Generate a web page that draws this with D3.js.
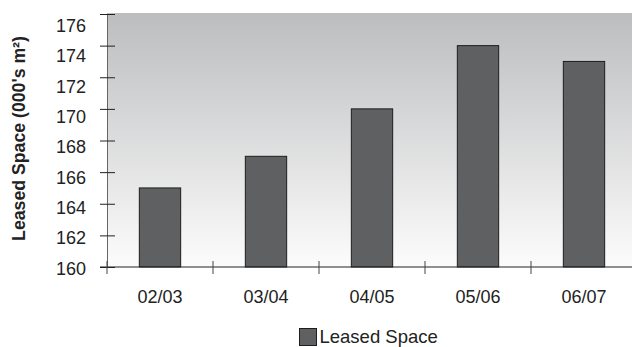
<!DOCTYPE html>
<html>
<head>
<meta charset="utf-8">
<script src="https://cdn.jsdelivr.net/npm/d3@7"></script>
<style>
  html, body { margin: 0; padding: 0; background: #fff; }
  svg { display: block; font-family: "Liberation Sans", Arial, sans-serif; }
</style>
</head>
<body>
<svg id="chart" width="632" height="347"></svg>
<script>
// Leased space per financial year (thousands of m²)
const years = ["02/03", "03/04", "04/05", "05/06", "06/07"];
const leasedSpace = [165, 167, 170, 174, 173];
const yTicks = [160, 162, 164, 166, 168, 170, 172, 174, 176];
const seriesName = "Leased Space";

const svg = d3.select("#chart");
const plotLeft = 107, plotRight = 637, plotTop = 14, plotBottom = 267;

const x = d3.scaleBand().domain(years).range([plotLeft, plotRight]).paddingInner(0.61).paddingOuter(0.305);
const y = d3.scaleLinear().domain([160, 176]).range([plotBottom, plotTop]);
// tick labels sit on a slightly tighter ladder than the tick marks
const yLabel = d3.scaleLinear().domain([160, 176]).range([268, 25.5]);

// plot background gradient
const defs = svg.append("defs");
const grad = defs.append("linearGradient").attr("id", "bg").attr("x1", 0).attr("y1", 0).attr("x2", 0).attr("y2", 1);
grad.append("stop").attr("offset", "0%").attr("stop-color", "#bcbdbf");
grad.append("stop").attr("offset", "100%").attr("stop-color", "#fcfcfc");
svg.append("rect").attr("x", plotLeft).attr("y", plotTop - 1).attr("width", plotRight - plotLeft).attr("height", plotBottom - plotTop + 1).attr("fill", "url(#bg)");

// bars
svg.append("g").selectAll("rect").data(leasedSpace).join("rect")
  .attr("x", (d, i) => x(years[i]))
  .attr("y", d => y(d))
  .attr("width", x.bandwidth())
  .attr("height", d => y(160) - y(d))
  .attr("fill", "#5f6062")
  .attr("stroke", "#1e1e1e")
  .attr("stroke-width", 1);

// y axis: ticks and domain from the axis generator, labels placed separately
const yAxis = d3.axisLeft(y).tickValues(yTicks).tickSizeInner(7).tickSizeOuter(0).tickFormat("");
const gy = svg.append("g").attr("transform", `translate(${plotLeft},0)`).call(yAxis);
gy.select(".domain").attr("stroke", "#666");
gy.selectAll(".tick line").attr("stroke", "#222").attr("x2", 8).attr("x1", -7);
svg.append("g").selectAll("text").data(yTicks).join("text")
  .attr("x", 86)
  .attr("y", d => yLabel(d) + 6.5)
  .attr("text-anchor", "end")
  .attr("font-size", 18).attr("fill", "#222")
  .text(d => d);

// x axis with category boundary ticks
const gx = svg.append("g").attr("transform", `translate(0,${plotBottom})`);
gx.append("line").attr("x1", plotLeft - 7).attr("x2", 632).attr("stroke", "#222");
const halfGap = x.step() * x.paddingInner() / 2;
gx.selectAll("line.b").data(years).join("line").attr("class", "b")
  .attr("x1", d => x(d) - halfGap)
  .attr("x2", d => x(d) - halfGap)
  .attr("y1", -6).attr("y2", 7).attr("stroke", "#444");
gx.selectAll("text").data(years).join("text")
  .attr("x", d => x(d) + x.bandwidth() / 2)
  .attr("y", 35.5)
  .attr("text-anchor", "middle")
  .attr("font-size", 18).attr("fill", "#222")
  .text(d => d);

// y axis title
svg.append("text")
  .attr("transform", "translate(25,138.5) rotate(-90)")
  .attr("text-anchor", "middle")
  .attr("font-size", 17.7).attr("font-weight", "bold").attr("fill", "#222")
  .text("Leased Space (000's m²)");

// legend
const lg = svg.append("g").attr("transform", "translate(299.5,328.5)");
lg.append("rect").attr("width", 17).attr("height", 17).attr("fill", "#5f6062").attr("stroke", "#1e1e1e");
lg.append("text").attr("x", 20).attr("y", 14).attr("font-size", 18.5).attr("fill", "#222").text(seriesName);
</script>
</body>
</html>
